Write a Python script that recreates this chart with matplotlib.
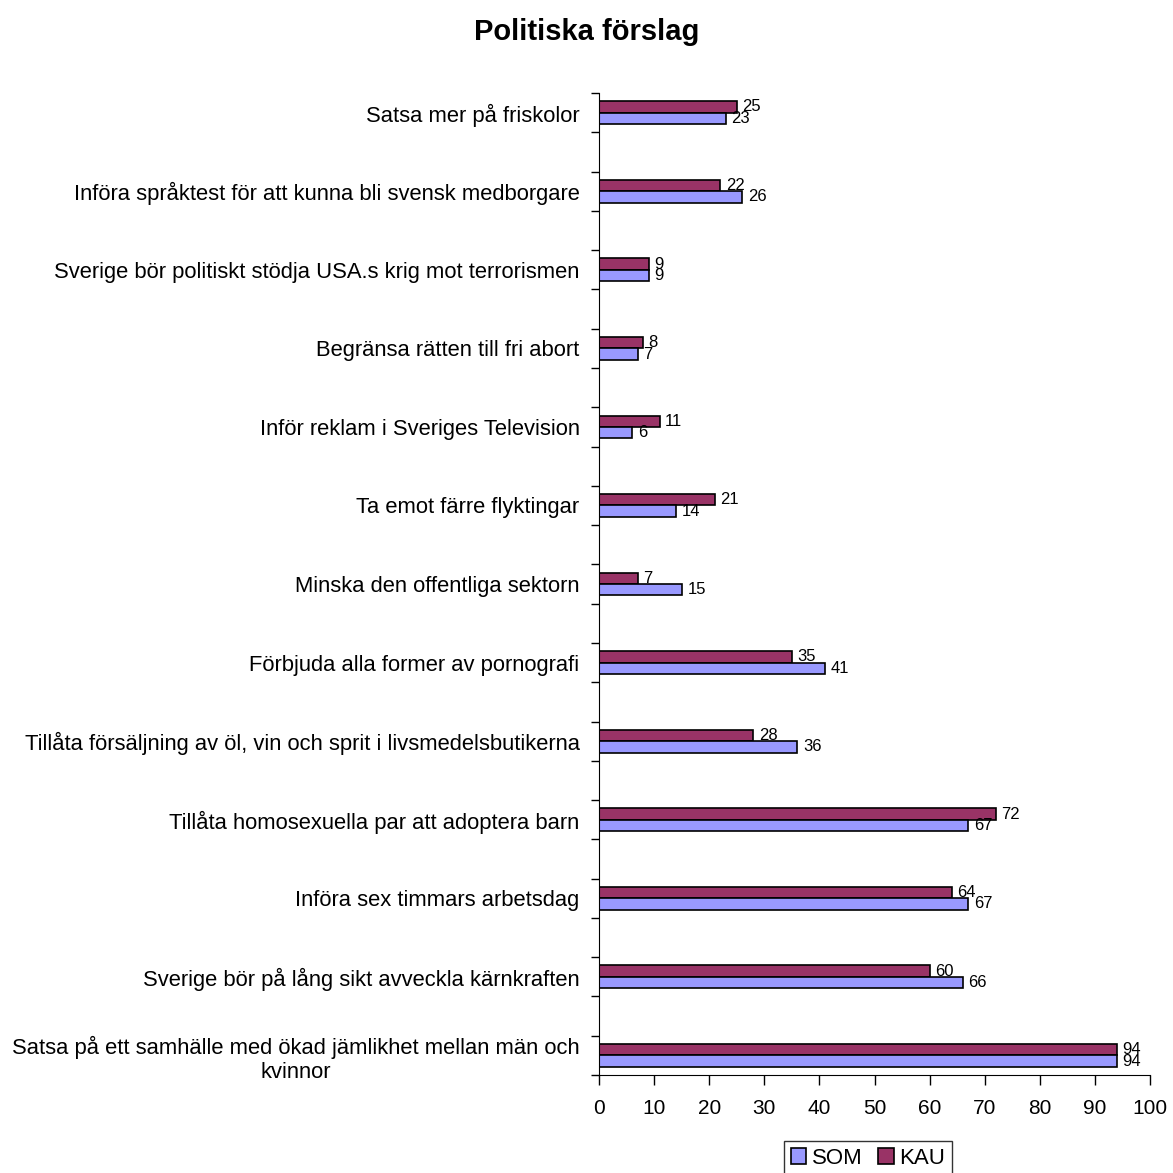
import matplotlib.pyplot as plt
import numpy as np

plt.rcParams['font.family'] = ['Liberation Sans', 'DejaVu Sans']

categories = [
    "Satsa mer på friskolor",
    "Införa språktest för att kunna bli svensk medborgare",
    "Sverige bör politiskt stödja USA.s krig mot terrorismen",
    "Begränsa rätten till fri abort",
    "Inför reklam i Sveriges Television",
    "Ta emot färre flyktingar",
    "Minska den offentliga sektorn",
    "Förbjuda alla former av pornografi",
    "Tillåta försäljning av öl, vin och sprit i livsmedelsbutikerna",
    "Tillåta homosexuella par att adoptera barn",
    "Införa sex timmars arbetsdag",
    "Sverige bör på lång sikt avveckla kärnkraften",
    "Satsa på ett samhälle med ökad jämlikhet mellan män och\nkvinnor",
]
som = [23, 26, 9, 7, 6, 14, 15, 41, 36, 67, 67, 66, 94]
kau = [25, 22, 9, 8, 11, 21, 7, 35, 28, 72, 64, 60, 94]

som_color = "#9999FF"
kau_color = "#993366"

fig = plt.figure(figsize=(11.73, 11.73), dpi=100)
ax = fig.add_axes([0.5107, 0.0835, 0.4697, 0.8372])

y = np.arange(len(categories))
h = 0.145
b_kau = ax.barh(y - h / 2, kau, height=h, color=kau_color, edgecolor="black", linewidth=1.2, label="KAU")
b_som = ax.barh(y + h / 2, som, height=h, color=som_color, edgecolor="black", linewidth=1.2, label="SOM")

for bars, vals in ((b_kau, kau), (b_som, som)):
    for bar, v in zip(bars, vals):
        ax.annotate(str(v), (v, bar.get_y() + bar.get_height() / 2),
                    xytext=(4, 0), textcoords="offset points",
                    va="center", ha="left", fontsize=12)

ax.set_ylim(len(categories) - 0.75, -0.25)
ax.set_xlim(0, 100)
ax.set_xticks(range(0, 101, 10))
ax.set_yticks(y)
ax.set_yticklabels(categories, multialignment="center")
ax.set_yticks(np.arange(-0.25, len(categories) - 0.5, 0.5), minor=True)
ax.tick_params(axis="y", which="major", length=0, pad=14, labelsize=15.8)
ax.tick_params(axis="y", which="minor", length=6, width=1)
ax.tick_params(axis="x", length=7, width=1, pad=10, labelsize=15)

ax.spines["top"].set_visible(False)
ax.spines["right"].set_visible(False)

fig.suptitle("Politiska förslag", fontsize=21, fontweight="bold", y=0.985)

leg = ax.legend([b_som, b_kau], ["SOM", "KAU"], loc="center",
                bbox_to_anchor=(0.488, -0.0845), ncol=2, fontsize=16,
                frameon=True, fancybox=False, edgecolor="black",
                handlelength=0.7, handleheight=0.7, handletextpad=0.25,
                columnspacing=0.7, borderpad=0.3, borderaxespad=0)
leg.get_frame().set_linewidth(1.0)

fig.savefig("out.png", dpi=100)
